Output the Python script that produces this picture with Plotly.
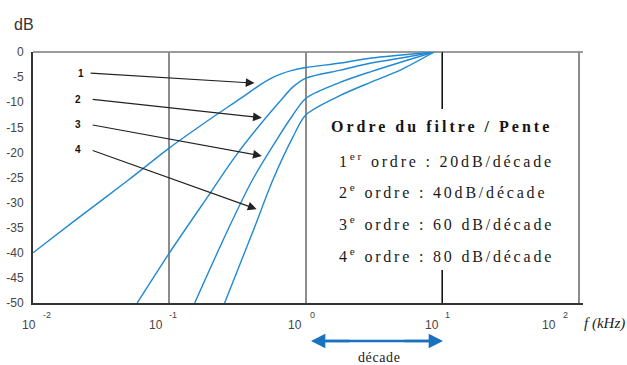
import numpy as np
import plotly.graph_objects as go

# Frequency response of high-pass filters of order 1 to 4 (f in kHz, gain in dB)
freq_1 = [0.01, 0.02, 0.05, 0.1, 0.2, 0.33, 0.47, 0.55, 0.65, 0.78, 1.0, 1.8, 3.0, 5.0, 8.7]
gain_1 = [-40.0, -33.7, -25.5, -19.1, -13.3, -9.3, -6.4, -5.3, -4.4, -3.7, -3.1, -2.2, -1.2, -0.6, 0.0]

freq_2 = [0.058, 0.1, 0.2, 0.3, 0.467, 0.655, 0.8, 1.0, 1.8, 3.0, 5.0, 8.7]
gain_2 = [-50.0, -40.0, -28.0, -21.0, -14.3, -9.6, -7.0, -5.2, -3.6, -2.2, -1.2, 0.0]

freq_3 = [0.153, 0.267, 0.405, 0.6, 0.8, 1.0, 1.8, 3.0, 5.0, 8.7]
gain_3 = [-50.0, -35.5, -25.5, -17.8, -12.6, -9.2, -6.0, -3.9, -2.0, 0.0]

freq_4 = [0.2535, 0.412, 0.572, 0.8, 1.0, 1.8, 3.0, 5.0, 8.7]
gain_4 = [-50.0, -35.5, -25.5, -17.0, -12.5, -8.6, -6.0, -3.5, 0.0]

curves = [(freq_1, gain_1), (freq_2, gain_2), (freq_3, gain_3), (freq_4, gain_4)]

x_ticks = [0.01, 0.1, 1, 10, 100]
x_tick_exp = ["-2", "-1", "0", "1", "2"]
y_ticks = [0, -5, -10, -15, -20, -25, -30, -35, -40, -45, -50]

curve_labels = ["1", "2", "3", "4"]
# label anchor (f, dB), arrow tail (f, dB), arrow head (f, dB)
label_pos = [(0.0225, -4.2), (0.0215, -9.4), (0.0215, -14.5), (0.0215, -19.5)]
arrow_tail = [(0.0258, -4.2), (0.0267, -9.4), (0.0267, -14.5), (0.0267, -19.5)]
arrow_head = [(0.42, -6.2), (0.475, -13.1), (0.475, -20.7), (0.435, -31.3)]

legend_title = "Ordre du filtre / Pente"
legend_lines = [
    "1<sup>er</sup> ordre : 20dB/décade",
    "2<sup>e</sup> ordre : 40dB/décade",
    "3<sup>e</sup> ordre : 60 dB/décade",
    "4<sup>e</sup> ordre : 80 dB/décade",
]

BLUE = "#2089d3"
ARROW_BLUE = "#1a72bf"
W, H = 627, 365
L, R, T, B = 33, 44, 52, 62
pw, ph = W - L - R, H - T - B


def px_x(p):
    return (p - L) / pw


def px_y(p):
    return 1 - (p - T) / ph


fig = go.Figure()

# vertical decade line at 10 kHz (black)
fig.add_trace(go.Scatter(x=[10, 10], y=[-50, 0], mode="lines",
                         line=dict(color="#151515", width=1.2),
                         hoverinfo="skip", showlegend=False))

for f, g in curves:
    fig.add_trace(go.Scatter(x=f, y=g, mode="lines",
                             line=dict(color=BLUE, width=1.4, shape="spline", smoothing=0.8),
                             hoverinfo="skip", showlegend=False))

shapes = [
    # top border at 0 dB
    dict(type="line", xref="paper", yref="paper", x0=0, x1=1, y0=1, y1=1,
         line=dict(color="#9a9a9a", width=2), layer="below"),
    # white box behind the slope legend
    dict(type="rect", xref="paper", yref="paper",
         x0=px_x(325), x1=px_x(560), y0=px_y(270), y1=px_y(109),
         fillcolor="white", line=dict(width=0), layer="above"),
    # shaft of the one-decade arrow
    dict(type="line", xref="paper", yref="paper", x0=px_x(316), x1=px_x(438),
         y0=px_y(341), y1=px_y(341), line=dict(color=ARROW_BLUE, width=2.6), layer="above"),
]

annotations = []

# x tick labels "10" with exponent
ten_shift = [5, -4, -2, -1, -21]
exp_shift = [8, -2, 2, 1, -18]
for v, e, s10, se in zip(x_ticks, x_tick_exp, ten_shift, exp_shift):
    annotations.append(dict(x=np.log10(v), xref="x", y=px_y(325), yref="paper",
                            text="10", showarrow=False, xanchor="right", yanchor="middle",
                            xshift=s10,
                            font=dict(family="Liberation Sans", size=12, color="#444")))
    annotations.append(dict(x=np.log10(v), xref="x", y=px_y(315), yref="paper",
                            text=e, showarrow=False, xanchor="left", yanchor="middle",
                            xshift=se,
                            font=dict(family="Liberation Sans", size=9, color="#444")))

# curve numbers and their pointer arrows
for lab, (lx, ly), (tx, ty), (hx, hy) in zip(curve_labels, label_pos, arrow_tail, arrow_head):
    annotations.append(dict(x=np.log10(lx), y=ly, xref="x", yref="y", text="<b>" + lab + "</b>",
                            showarrow=False, font=dict(family="Liberation Sans", size=10, color="#111")))
    annotations.append(dict(x=np.log10(hx), y=hy, xref="x", yref="y",
                            ax=np.log10(tx), ay=ty, axref="x", ayref="y", text="",
                            showarrow=True, arrowhead=2, arrowsize=1.6, arrowwidth=1.1,
                            arrowcolor="#222", standoff=0))

# slope legend
annotations.append(dict(x=px_x(441), y=px_y(127), xref="paper", yref="paper",
                        text="<b><span style='letter-spacing:3px'>" + legend_title + "</span></b>",
                        showarrow=False, xanchor="center", yanchor="middle",
                        font=dict(family="Liberation Serif", size=16, color="#151515")))
for line, yy in zip(legend_lines, [160, 191, 223, 255]):
    annotations.append(dict(x=px_x(337), y=px_y(yy), xref="paper", yref="paper",
                            text="<span style='letter-spacing:2.8px'>" + line + "</span>",
                            showarrow=False, xanchor="left", yanchor="middle",
                            font=dict(family="Liberation Serif", size=16, color="#1a1a1a")))

# axis titles
annotations.append(dict(x=px_x(12), y=px_y(24), xref="paper", yref="paper", text="dB",
                        showarrow=False, xanchor="left", yanchor="middle",
                        font=dict(family="Liberation Sans", size=16, color="#333")))
annotations.append(dict(x=px_x(582), y=px_y(323), xref="paper", yref="paper", text="<i>f (kHz)</i>",
                        showarrow=False, xanchor="left", yanchor="middle",
                        font=dict(family="Liberation Serif", size=15, color="#222")))

# heads of the one-decade arrow
for end, off in ((443, -40), (311, 40)):
    annotations.append(dict(x=px_x(end), y=px_y(341), xref="paper", yref="paper",
                            ax=off, ay=0, text="", showarrow=True, arrowhead=2, arrowsize=1.1,
                            arrowwidth=2.6, arrowcolor=ARROW_BLUE, standoff=0))
annotations.append(dict(x=px_x(379), y=px_y(357), xref="paper", yref="paper",
                        text="<span style='letter-spacing:0.6px'>décade</span>", showarrow=False,
                        xanchor="center", yanchor="middle",
                        font=dict(family="Liberation Serif", size=14, color="#222")))

fig.update_layout(
    width=W, height=H,
    margin=dict(l=L, r=R, t=T, b=B, autoexpand=False),
    paper_bgcolor="white", plot_bgcolor="white",
    showlegend=False,
    shapes=shapes,
    annotations=annotations,
    xaxis=dict(type="log", range=[-2, 2.03], tickvals=x_ticks, showticklabels=False,
               showgrid=True, gridcolor="#8c8c8c", gridwidth=1.6, automargin=False,
               showline=True, linecolor="#333", linewidth=2, zeroline=False, ticks=""),
    yaxis=dict(range=[-50, 0], tickvals=y_ticks, ticktext=[str(v) for v in y_ticks],
               showgrid=False, zeroline=False, showline=True, linecolor="#333", linewidth=2,
               ticks="", ticklabelstandoff=5, automargin=False,
               tickfont=dict(family="Liberation Sans", size=12, color="#444")),
)

fig.write_html("out.html")
